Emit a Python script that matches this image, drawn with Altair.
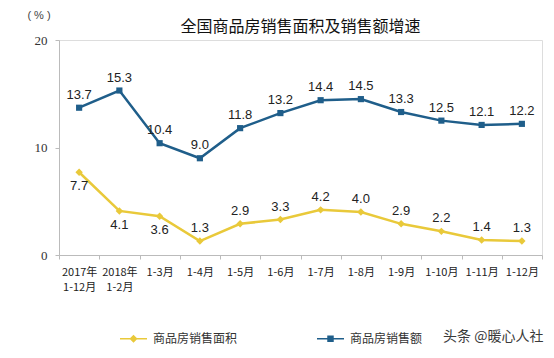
import altair as alt
import pandas as pd

categories = ["2017年\n1-12月", "2018年\n1-2月", "1-3月", "1-4月", "1-5月", "1-6月",
              "1-7月", "1-8月", "1-9月", "1-10月", "1-11月", "1-12月"]
area_growth = [7.7, 4.1, 3.6, 1.3, 2.9, 3.3, 4.2, 4.0, 2.9, 2.2, 1.4, 1.3]
amount_growth = [13.7, 15.3, 10.4, 9.0, 11.8, 13.2, 14.4, 14.5, 13.3, 12.5, 12.1, 12.2]
area_label_below = [True, True, True, False, False, False, False, False, False, False, False, False]

TITLE = "全国商品房销售面积及销售额增速"
UNIT = "( % )"
WATERMARK = "头条 @暖心人社"
S_AREA = "商品房销售面积"
S_AMOUNT = "商品房销售额"
YELLOW = "#E9C93A"
BLUE = "#1F5E8A"

rows = []
for i, c in enumerate(categories):
    rows.append({"cat": c, "series": S_AREA, "value": area_growth[i],
                 "below": area_label_below[i], "order": i})
    rows.append({"cat": c, "series": S_AMOUNT, "value": amount_growth[i],
                 "below": False, "order": i})
df = pd.DataFrame(rows)

CJK = "Noto Sans CJK SC"

x_enc = alt.X("cat:N", sort=categories, title=None,
              scale=alt.Scale(paddingInner=0, paddingOuter=0),
              axis=alt.Axis(labelExpr="split(datum.label, '\\n')", labelAngle=0,
                            labelFont=CJK, labelFontSize=11, labelColor="#222",
                            labelLineHeight=15, labelPadding=7, tickSize=4,
                            tickBand="extent", tickColor="#BBBBBB",
                            domainColor="#BBBBBB"))
y_enc = alt.Y("value:Q", scale=alt.Scale(domain=[0, 20], nice=False),
              axis=alt.Axis(values=[0, 10, 20], grid=False, title=None,
                            labelFont="Liberation Serif", labelFontSize=13,
                            labelColor="#333", labelPadding=8, tickSize=4,
                            tickColor="#BBBBBB", domainColor="#BBBBBB"))

color_scale = alt.Scale(domain=[S_AREA, S_AMOUNT], range=[YELLOW, BLUE])
legend_shapes = [
    "M-1,-0.06H1V0.06H-1Z M0,-0.3L0.3,0L0,0.3L-0.3,0Z",
    "M-1,-0.06H1V0.06H-1Z M-0.24,-0.24H0.24V0.24H-0.24Z",
]

base = alt.Chart(df)
area_df = base.transform_filter(alt.datum.series == S_AREA)
amount_df = base.transform_filter(alt.datum.series == S_AMOUNT)

line_area = area_df.mark_line(strokeWidth=2.5, color=YELLOW).encode(
    x=x_enc, y=y_enc, order="order:Q")
line_amount = amount_df.mark_line(strokeWidth=2.5, color=BLUE).encode(
    x=x_enc, y=y_enc, order="order:Q")

pts_area = area_df.mark_point(
    shape="diamond", filled=True, size=55, opacity=1, color=YELLOW).encode(x=x_enc, y=y_enc)
pts_amount = amount_df.mark_point(
    shape="square", filled=True, size=38, opacity=1, color=BLUE).encode(x=x_enc, y=y_enc)

leg = alt.Legend(orient="none", direction="horizontal",
                 legendX=61, legendY=285, title=None,
                 symbolSize=729, symbolOpacity=1, symbolStrokeWidth=0,
                 labelFont=CJK, labelFontSize=12,
                 labelColor="#333", labelOffset=6,
                 columnPadding=79, padding=0)
legend_layer = base.mark_point(filled=True, opacity=0).encode(
    x=x_enc, y=y_enc,
    color=alt.Color("series:N", scale=color_scale, legend=leg),
    shape=alt.Shape("series:N", scale=alt.Scale(domain=[S_AREA, S_AMOUNT],
                                                range=legend_shapes),
                    legend=leg))

txt_kw = dict(font="Liberation Sans", fontSize=13, color="#222")
lbl_amount = amount_df.mark_text(dy=-13, **txt_kw).encode(
    x=x_enc, y=y_enc, text=alt.Text("value:Q", format=".1f"))
lbl_area_above = base.transform_filter(
    (alt.datum.series == S_AREA) & (alt.datum.below == False)).mark_text(
    dy=-13, **txt_kw).encode(x=x_enc, y=y_enc, text=alt.Text("value:Q", format=".1f"))
lbl_area_below = base.transform_filter(
    (alt.datum.series == S_AREA) & (alt.datum.below == True)).mark_text(
    dy=14, **txt_kw).encode(x=x_enc, y=y_enc, text=alt.Text("value:Q", format=".1f"))

title_txt = alt.Chart(pd.DataFrame({"t": [TITLE]})).mark_text(
    font=CJK, fontSize=16, color="#111", align="center", baseline="middle").encode(
    x=alt.value(241.5), y=alt.value(-13), text="t:N")
unit_txt = alt.Chart(pd.DataFrame({"t": [UNIT]})).mark_text(
    font="Liberation Sans", fontSize=11, color="#444", align="center",
    baseline="middle").encode(x=alt.value(-20), y=alt.value(-24), text="t:N")
watermark = alt.Chart(pd.DataFrame({"t": [WATERMARK]})).mark_text(
    font=CJK, fontSize=14, color="#3A3A3A", align="left", baseline="middle").encode(
    x=alt.value(384), y=alt.value(297), text="t:N")

chart = alt.layer(line_area, line_amount, pts_area, pts_amount, legend_layer,
                  lbl_amount, lbl_area_above, lbl_area_below,
                  title_txt, unit_txt, watermark).properties(
    width=483, height=215,
    autosize=alt.AutoSizeParams(type="none"),
    padding={"left": 51, "top": 32, "right": 4, "bottom": 95},
).configure_view(stroke="#C4C4C4", strokeWidth=1).configure(background="white")

chart.save("out.html", embed_options={"renderer": "svg", "actions": False})
